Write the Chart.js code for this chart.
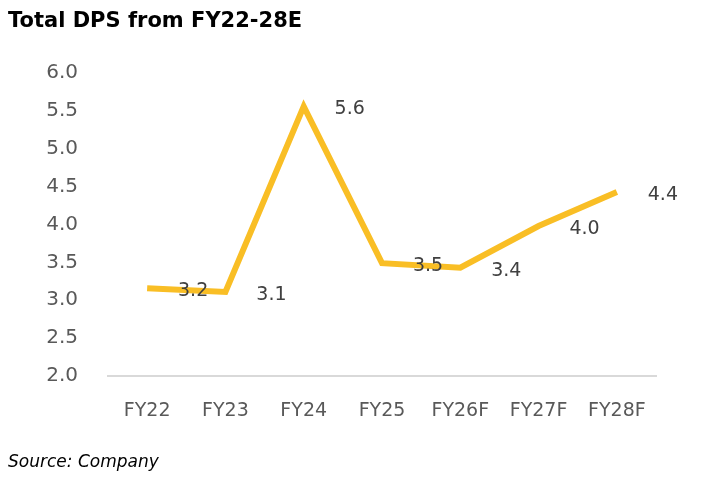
<!DOCTYPE html>
<html>
<head>
<meta charset="utf-8">
<script src="https://cdn.jsdelivr.net/npm/chart.js@4.4.1/dist/chart.umd.min.js"></script>
<style>
  html, body { margin: 0; padding: 0; background: #fff; }
  #wrap { position: relative; width: 702px; height: 488px; }
  #title { position: absolute; left: 8px; top: 8px; font: bold 21px "DejaVu Sans", sans-serif; color: #000; }
  #source { position: absolute; left: 8px; top: 451px; font: italic 17px "DejaVu Sans", sans-serif; color: #000; }
  canvas { position: absolute; left: 0; top: 0; }
</style>
</head>
<body>
<div id="wrap">
  <canvas id="dps" width="702" height="488"></canvas>
  <div id="title">Total DPS from FY22-28E</div>
  <div id="source">Source: Company</div>
</div>
<script>
const years = ['FY22', 'FY23', 'FY24', 'FY25', 'FY26F', 'FY27F', 'FY28F'];
const dps = [3.16, 3.11, 5.56, 3.49, 3.43, 3.98, 4.43];
const dpsLabels = ['3.2', '3.1', '5.6', '3.5', '3.4', '4.0', '4.4'];

// write the value labels to the right of each point
const valueLabels = {
    id: 'valueLabels',
    afterDatasetsDraw(chart) {
        const ctx = chart.ctx;
        const meta = chart.getDatasetMeta(0);
        ctx.save();
        ctx.font = '19px "DejaVu Sans", sans-serif';
        ctx.fillStyle = '#404040';
        ctx.textAlign = 'center';
        ctx.textBaseline = 'middle';
        meta.data.forEach((pt, i) => {
            ctx.fillText(dpsLabels[i], pt.x + 46, pt.y + 3);
        });
        ctx.restore();
    }
};

new Chart(document.getElementById('dps'), {
    type: 'line',
    data: {
        labels: years,
        datasets: [{
            data: dps,
            borderColor: '#F9BE25',
            borderWidth: 6,
            pointRadius: 0,
            tension: 0,
            fill: false
        }]
    },
    options: {
        responsive: false,
        animation: false,
        layout: { padding: { top: 73, right: 46, left: 0, bottom: 0 } },
        plugins: {
            legend: { display: false },
            tooltip: { enabled: false }
        },
        scales: {
            y: {
                min: 2,
                max: 6,
                ticks: {
                    stepSize: 0.5,
                    padding: 30,
                    color: '#595959',
                    font: { family: 'DejaVu Sans', size: 20 },
                    callback: v => v.toFixed(1)
                },
                grid: { display: false, drawTicks: false },
                border: { display: false },
                afterFit: s => { s.width = 108; }
            },
            x: {
                offset: true,
                ticks: {
                    padding: 24,
                    color: '#595959',
                    font: { family: 'DejaVu Sans', size: 19 }
                },
                grid: { display: false, drawTicks: false, offset: true },
                border: { display: true, color: '#d9d9d9', width: 2 },
                afterFit: s => { s.height = 112; }
            }
        }
    },
    plugins: [valueLabels]
});
</script>
</body>
</html>
